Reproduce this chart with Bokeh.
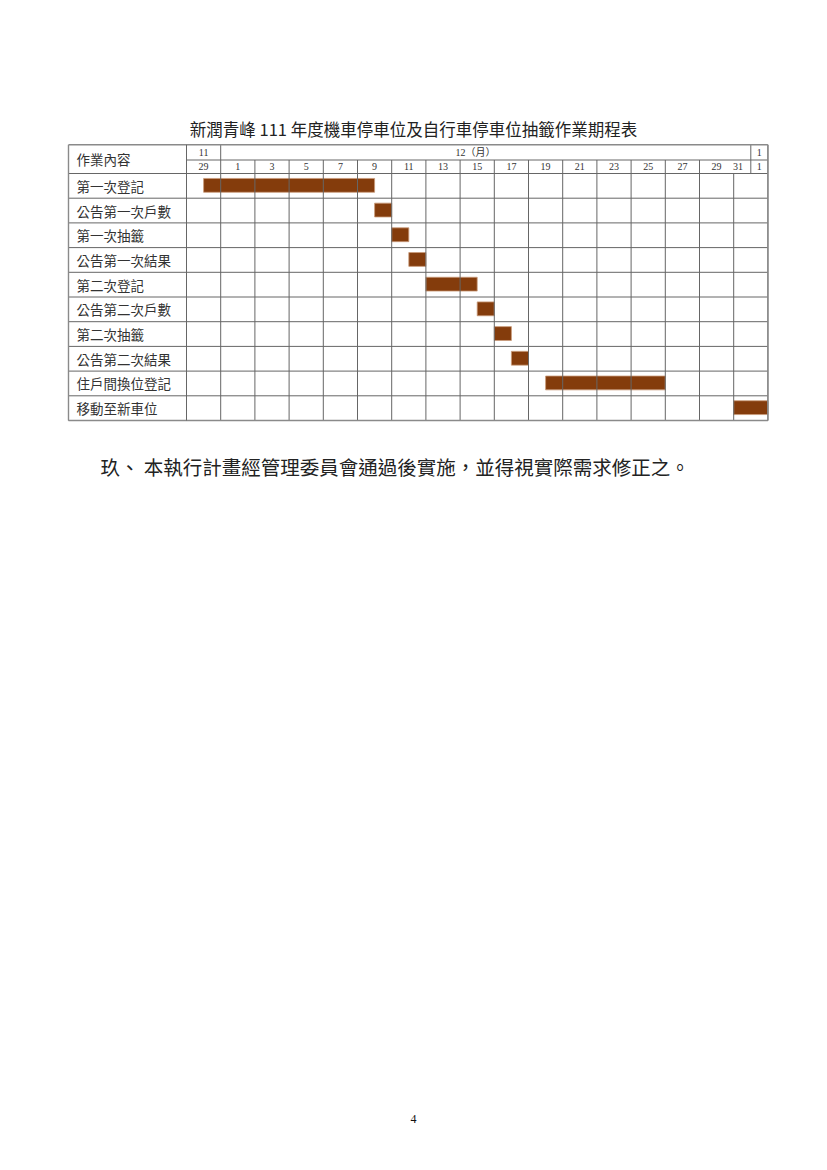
import pandas as pd
from bokeh.plotting import figure
from bokeh.models import Range1d, ColumnDataSource
from bokeh.core.properties import value
from bokeh.embed import file_html
from bokeh.resources import INLINE

# ---------------- data ----------------
title = "新潤青峰 111 年度機車停車位及自行車停車位抽籤作業期程表"
header_label = "作業內容"
tasks = ["第一次登記", "公告第一次戶數", "第一次抽籤", "公告第一次結果", "第二次登記",
         "公告第二次戶數", "第二次抽籤", "公告第二次結果", "住戶間換位登記", "移動至新車位"]
task_start = ["2022-11-30", "2022-12-10", "2022-12-11", "2022-12-12", "2022-12-13",
              "2022-12-16", "2022-12-17", "2022-12-18", "2022-12-20", "2022-12-31"]
task_end = ["2022-12-09", "2022-12-10", "2022-12-11", "2022-12-12", "2022-12-15",
            "2022-12-16", "2022-12-17", "2022-12-18", "2022-12-26", "2023-01-01"]
month_labels = ["11", "12（月）", "1"]
month_start = ["2022-11-29", "2022-12-01", "2023-01-01"]
day_labels = ["29", "1", "3", "5", "7", "9", "11", "13", "15", "17", "19", "21",
              "23", "25", "27", "29", "31", "1"]
day_dates = ["2022-11-29", "2022-12-01", "2022-12-03", "2022-12-05", "2022-12-07",
             "2022-12-09", "2022-12-11", "2022-12-13", "2022-12-15", "2022-12-17",
             "2022-12-19", "2022-12-21", "2022-12-23", "2022-12-25", "2022-12-27",
             "2022-12-29", "2022-12-31", "2023-01-01"]
period_end = "2023-01-02"
note = "玖、 本執行計畫經管理委員會通過後實施，並得視實際需求修正之。"
page_number = "4"

# ---------------- layout constants (pixels) ----------------
W, H = 827, 1170
DAY_PX = 17.1          # width of one day
X0_PX = 186            # left edge of date area
ROW_PX = 24.7          # height of a task row
Y0_PX = 173            # top of first task row
TABLE_LEFT_PX = 68
HDR_TOP_PX = 144.3
HDR_MID_PX = 159.5


def px_x(px):
    return (px - X0_PX) / DAY_PX


def px_y(py):
    return (py - Y0_PX) / ROW_PX


origin = pd.Timestamp(day_dates[0])


def off(d):
    return (pd.Timestamp(d) - origin).days


end_off = off(period_end)
table_left = px_x(TABLE_LEFT_PX)
hdr_top = px_y(HDR_TOP_PX)
hdr_mid = px_y(HDR_MID_PX)
n = len(tasks)

p = figure(width=W, height=H, output_backend="svg", toolbar_location=None,
           x_range=Range1d(px_x(0), px_x(W)), y_range=Range1d(px_y(H), px_y(0)),
           min_border=0, x_axis_type=None, y_axis_type=None,
           outline_line_color=None, background_fill_color="white",
           border_fill_color="white")
p.xgrid.visible = False
p.ygrid.visible = False

GRID = "#666666"
SANS = value("Noto Sans CJK TC")
SERIF = value("Liberation Serif, Noto Sans CJK TC")

# ---------------- bars ----------------
bars = ColumnDataSource(dict(
    left=[off(s) for s in task_start],
    right=[off(e) + 1 for e in task_end],
    top=[i + 0.2 for i in range(n)],
    bottom=[i + 0.76 for i in range(n)],
))
p.quad(left="left", right="right", top="top", bottom="bottom", source=bars,
       fill_color="#843C0C", line_color="#C99A7A", line_width=0.8)

# ---------------- grid lines ----------------
x0s, y0s, x1s, y1s = [], [], [], []
for d in list(range(0, end_off - 1, 2)) + [end_off]:
    x0s.append(d); x1s.append(d); y0s.append(0); y1s.append(n)
hdr2_bounds = [off(d) for lab, d in zip(day_labels, day_dates) if lab != "31"] + [end_off]
for d in hdr2_bounds:
    x0s.append(d); x1s.append(d); y0s.append(hdr_mid); y1s.append(0)
hdr1_bounds = [off(d) for d in month_start] + [end_off]
for d in hdr1_bounds:
    x0s.append(d); x1s.append(d); y0s.append(hdr_top); y1s.append(hdr_mid)
for i in range(0, n + 1):
    x0s.append(table_left); x1s.append(end_off); y0s.append(i); y1s.append(i)
x0s.append(0); x1s.append(end_off); y0s.append(hdr_mid); y1s.append(hdr_mid)
p.segment(x0=x0s, y0=y0s, x1=x1s, y1=y1s, line_color=GRID, line_width=1)

# outer border
p.segment(x0=[table_left, table_left, end_off, table_left],
          y0=[hdr_top, hdr_top, hdr_top, n],
          x1=[end_off, table_left, end_off, end_off],
          y1=[hdr_top, n, n, n], line_color="#8a8a8a", line_width=1.4)
p.segment(x0=[0], y0=[hdr_top], x1=[0], y1=[n], line_color=GRID, line_width=1)

# ---------------- header texts ----------------
m_off = [off(d) for d in month_start] + [end_off]
m_x = [(m_off[i] + m_off[i + 1]) / 2 for i in range(len(month_labels))]
m_x[1] -= 0.6   # label sits slightly left of the cell centre in the original
p.text(x=m_x, y=[(hdr_top + hdr_mid) / 2] * len(month_labels), text=month_labels,
       text_font=SERIF, text_font_size="10px", text_align="center",
       text_baseline="middle", text_color="#333333")
d_off = [off(d) for d in day_dates] + [end_off]
d_x = [(d_off[i] + d_off[i + 1]) / 2 for i in range(len(day_labels))]
d_x[-2] -= 0.25
p.text(x=d_x, y=[hdr_mid / 2] * len(day_labels), text=day_labels,
       text_font=SERIF, text_font_size="10px", text_align="center",
       text_baseline="middle", text_color="#333333")
p.text(x=[px_x(76)], y=[hdr_top / 2], text=[header_label], text_font=SANS,
       text_font_size="13.5px", text_baseline="middle", text_color="#333333")

# ---------------- task labels ----------------
p.text(x=[px_x(76)] * n, y=[i + 0.5 for i in range(n)], text=tasks,
       text_font=SANS, text_font_size="13.5px", text_baseline="middle",
       text_color="#333333")

# ---------------- title / note / page number ----------------
p.text(x=[px_x(413)], y=[px_y(128)], text=[title], text_font=SANS,
       text_font_size="16.5px", text_align="center", text_baseline="middle",
       text_color="#222222")
p.text(x=[px_x(100)], y=[px_y(466)], text=[note], text_font=SANS,
       text_font_size="19.5px", text_baseline="middle", text_color="#222222")
p.text(x=[px_x(413)], y=[px_y(1118)], text=[page_number],
       text_font=value("Liberation Serif"), text_font_size="12px",
       text_align="center", text_baseline="middle", text_color="#111111")

open("out.html", "w").write(file_html(p, INLINE))
